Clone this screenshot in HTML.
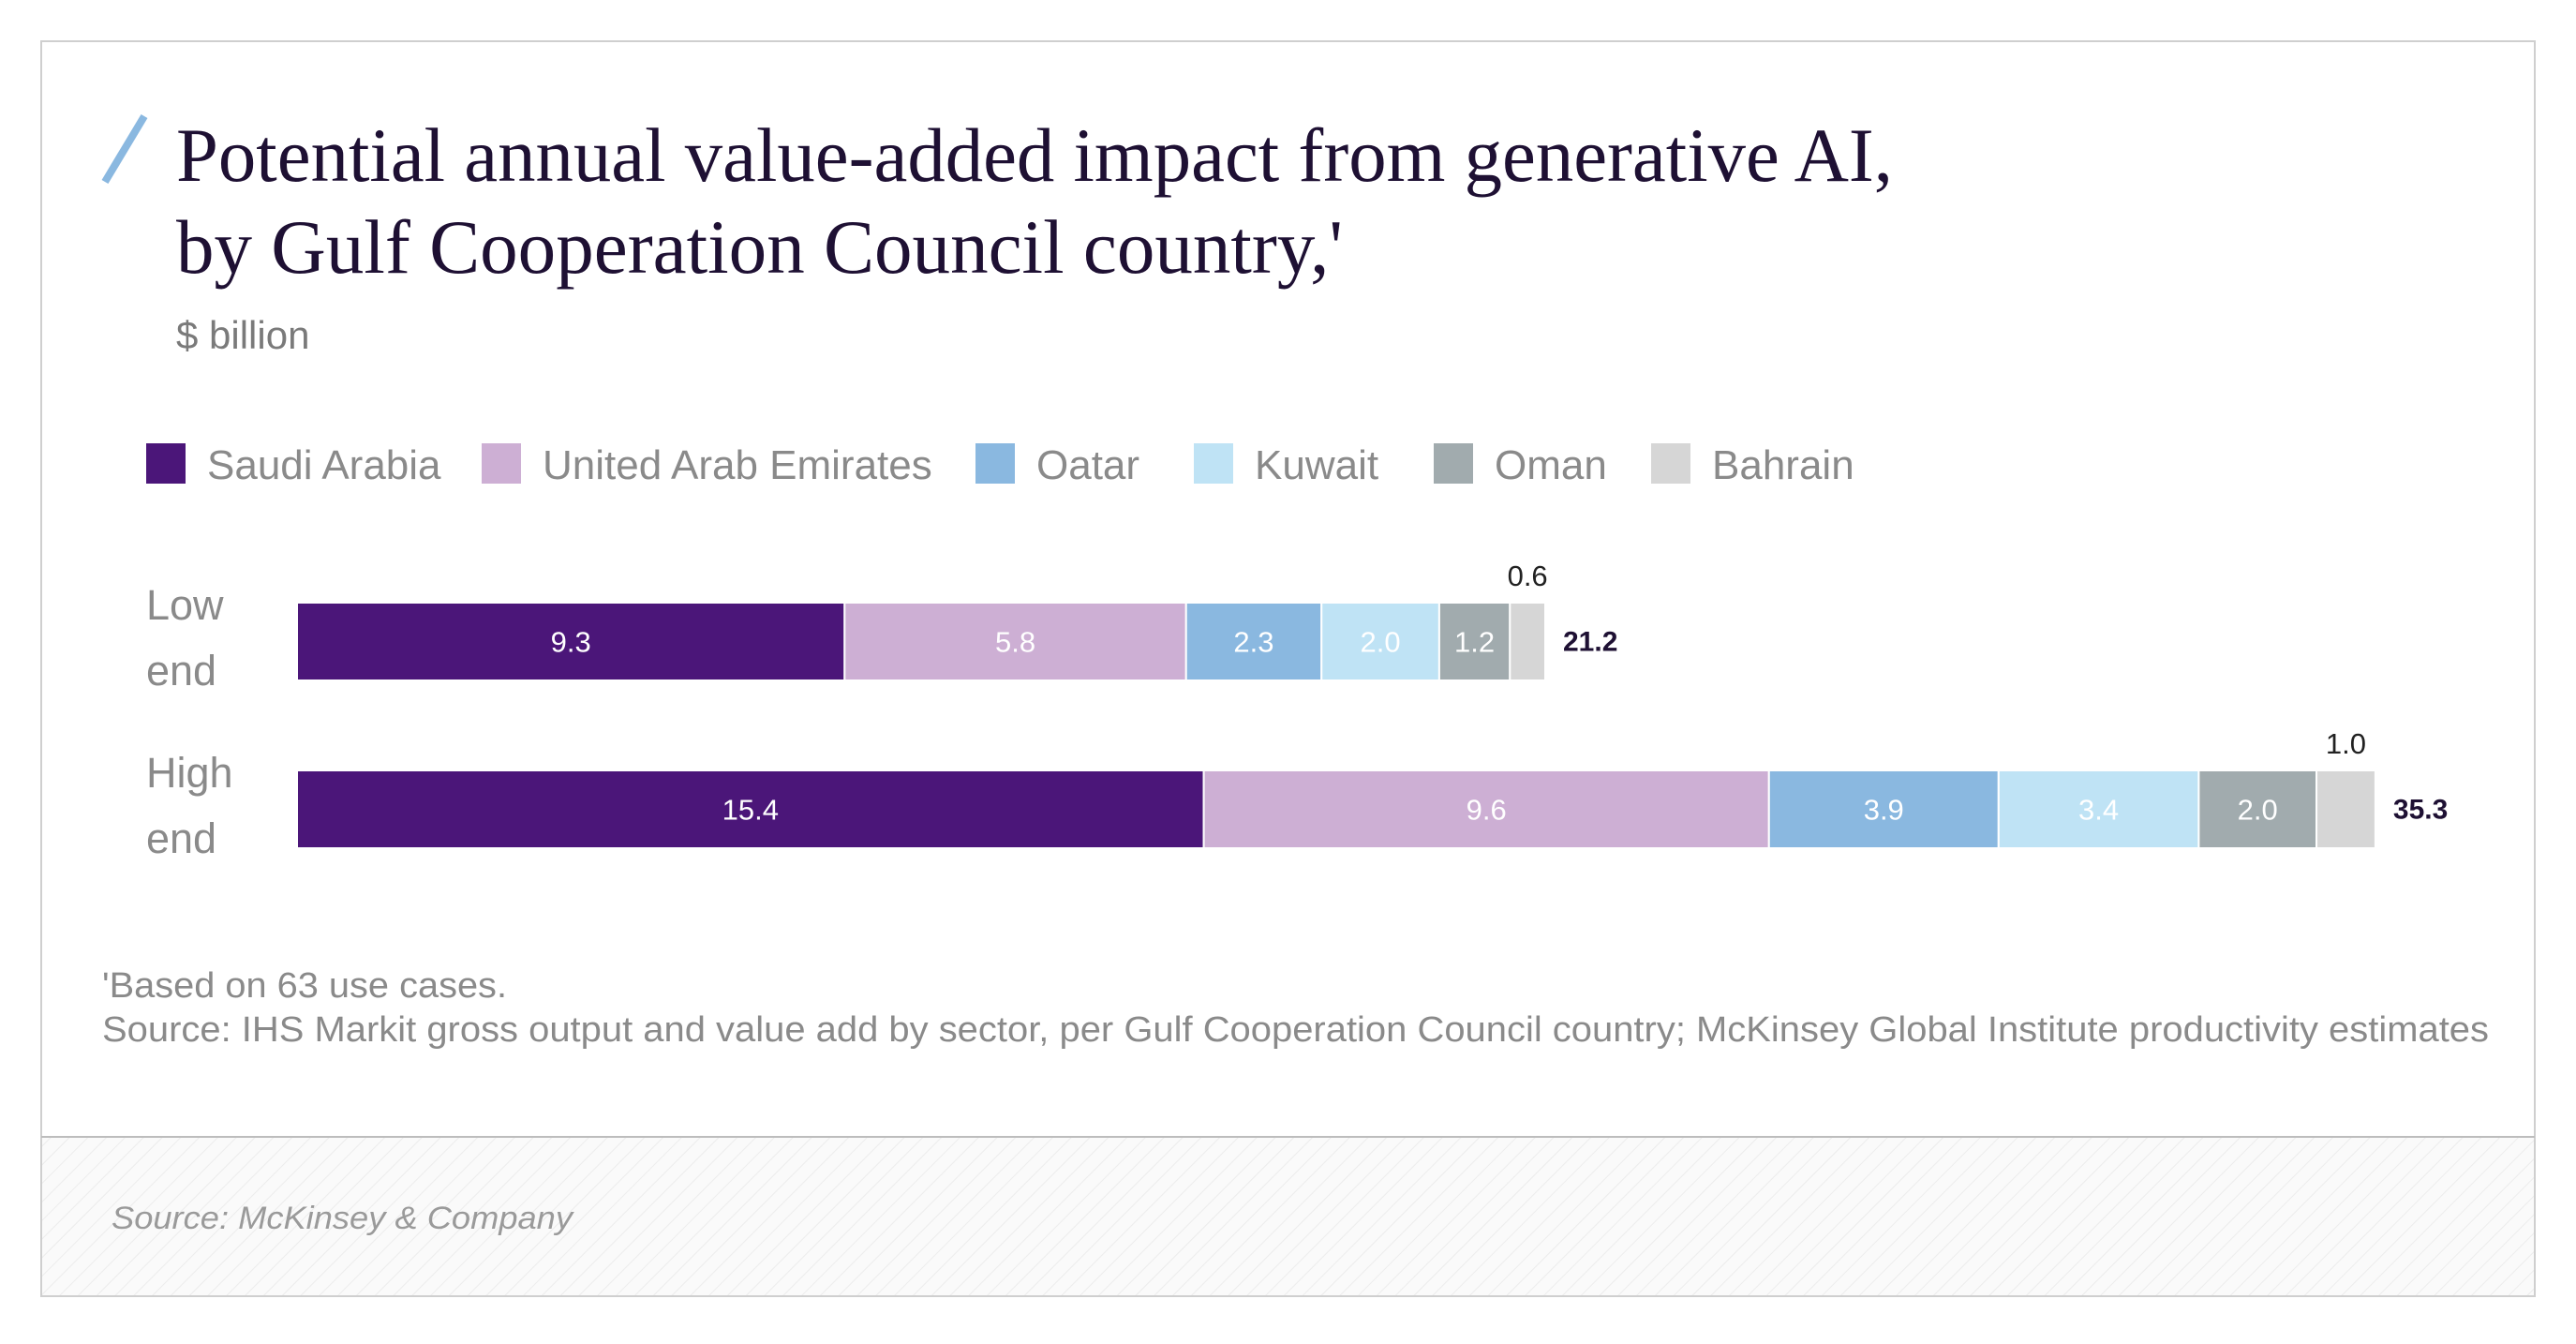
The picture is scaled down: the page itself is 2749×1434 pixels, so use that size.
<!DOCTYPE html>
<html><head><meta charset="utf-8"><style>
html,body{margin:0;padding:0;background:#fff;}
svg{display:block;}
</style></head><body>
<svg id="chart" width="2749" height="1434" viewBox="0 0 2749 1434" xmlns="http://www.w3.org/2000/svg" font-family="Liberation Sans, sans-serif">
<defs>
<pattern id="hatch" width="14" height="14" patternUnits="userSpaceOnUse" patternTransform="rotate(45)">
<rect width="14" height="14" fill="#fafafa"/><line x1="0" y1="0" x2="0" y2="14" stroke="#ececec" stroke-width="2"/>
</pattern>
</defs>
<rect x="44" y="44" width="2661" height="1339" fill="#fff" stroke="#cfcfcf" stroke-width="2"/>
<rect x="45" y="1213" width="2659" height="169" fill="url(#hatch)"/>
<line x1="44" y1="1213" x2="2705" y2="1213" stroke="#bdbdbd" stroke-width="2"/>
<line x1="112" y1="194" x2="154" y2="124" stroke="#8ab8e0" stroke-width="8"/>
<text x="188" y="193" font-family="Liberation Serif, serif" font-size="82" fill="#1e1033" textLength="1832" lengthAdjust="spacingAndGlyphs">Potential annual value-added impact from generative AI,</text>
<text x="188" y="291" font-family="Liberation Serif, serif" font-size="82" fill="#1e1033" textLength="1245" lengthAdjust="spacingAndGlyphs">by Gulf Cooperation Council country,'</text>
<text x="188" y="372" font-size="42" fill="#7a7a7a">$ billion</text>
<g id="legend"></g>
<g id="bars"></g>
<text x="109" y="1064" font-size="38" fill="#8a8a8a" textLength="432" lengthAdjust="spacingAndGlyphs">'Based on 63 use cases.</text>
<text x="109" y="1111" font-size="38" fill="#8a8a8a" textLength="2547" lengthAdjust="spacingAndGlyphs">Source: IHS Markit gross output and value add by sector, per Gulf Cooperation Council country; McKinsey Global Institute productivity estimates</text>
<text x="119" y="1311" font-size="34" font-style="italic" fill="#9a9a9a" textLength="492" lengthAdjust="spacingAndGlyphs">Source: McKinsey &amp; Company</text>
</svg>
<script>
const countries = ["Saudi Arabia","United Arab Emirates","Oatar","Kuwait","Oman","Bahrain"];
const colors = ["#4b1679","#cdafd4","#8ab8e0","#bfe3f5","#a1abae","#d6d6d6"];
const rowLabels = [["Low","end"],["High","end"]];
const lowValues = [9.3,5.8,2.3,2.0,1.2,0.6];
const highValues = [15.4,9.6,3.9,3.4,2.0,1.0];
const totals = [21.2,35.3];
const series = [lowValues, highValues];

const NS = "http://www.w3.org/2000/svg";
const svg = document.getElementById('chart');
function mk(tag, attrs, parent, txt){
  const e = document.createElementNS(NS, tag);
  for (const k in attrs) e.setAttribute(k, attrs[k]);
  if (txt !== undefined) e.textContent = txt;
  parent.appendChild(e);
  return e;
}
const x0 = 317, pxPer = 62.83;
const xScale = v => x0 + v * pxPer;
const rowTop = [643, 822], barH = 83;

// legend
const lg = document.getElementById('legend');
const legX = [156, 514, 1041, 1274, 1530, 1762];
countries.forEach((c, i) => {
  const r = mk('rect', {x: legX[i], y: 473, width: 42, height: 43, fill: colors[i]}, lg);
  
  
  const t = mk('text', {x: legX[i] + 65, y: 511, 'font-size': 44, fill: '#8a8a8a'}, lg, c);
  
  
});

const g = document.getElementById('bars');
series.forEach((vals, r) => {
  const top = rowTop[r];
  rowLabels[r].forEach((l, j) => {
    const t = mk('text', {x: 156, y: top + 18 + j * 70, 'font-size': 45, fill: '#8a8a8a'}, g, l);
    
    
  });
  let acc = 0;
  vals.forEach((v, i) => {
    const xa = xScale(acc), xb = xScale(acc + v);
    const rect = mk('rect', {x: xa, y: top, width: xb - xa, height: barH, fill: colors[i], stroke: '#fff', 'stroke-width': 2}, g);
    
    
    let t;
    if (i === vals.length - 1) {
      t = mk('text', {x: (xa + xb) / 2, y: top - 18, 'font-size': 31, fill: '#222', 'text-anchor': 'middle'}, g, v.toFixed(1));
    } else {
      t = mk('text', {x: (xa + xb) / 2, y: top + barH / 2 + 11, 'font-size': 31, fill: '#fff', 'text-anchor': 'middle'}, g, v.toFixed(1));
    }
    
    
    acc += v;
  });
  const tt = mk('text', {x: xScale(acc) + 19, y: top + barH / 2 + 10, 'font-size': 30, 'font-weight': 'bold', fill: '#1e1033'}, g, totals[r].toFixed(1));
  
  
});
</script>
</body></html>
